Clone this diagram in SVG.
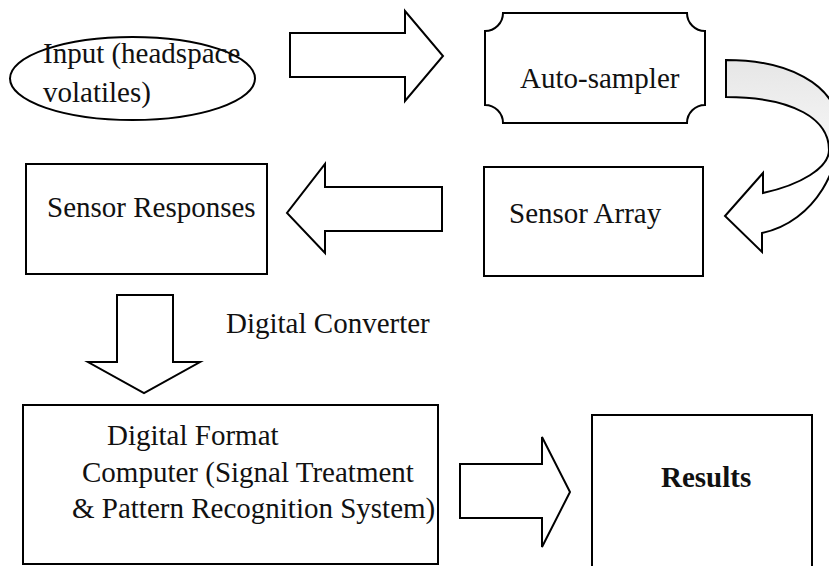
<svg xmlns="http://www.w3.org/2000/svg" width="829" height="566" viewBox="0 0 829 566">
<style>
.s{fill:#fff;stroke:#000;stroke-width:2;stroke-linejoin:miter}
.t{font-family:"Liberation Serif","Times New Roman",serif;font-size:29px;fill:#111}
.b{font-weight:bold}
</style>
<defs>
<linearGradient id="g" x1="0" y1="0" x2="0" y2="1">
<stop offset="0" stop-color="#e6e6e6"/>
<stop offset="0.45" stop-color="#f6f6f6"/>
<stop offset="0.6" stop-color="#fff"/>
</linearGradient>
</defs>
<rect width="829" height="566" fill="#fff"/>
<g id="input">
<ellipse class="s" cx="132.5" cy="78.5" rx="122.5" ry="41.5"/>
<text class="t" x="43" y="63">Input (headspace</text>
<text class="t" x="43" y="102">volatiles)</text>
</g>
<g id="autosampler">
<path class="s" d="M503,13 L687,13 A18,18 0 0 0 705,31 L705,105 A18,18 0 0 0 687,123 L503,123 A18,18 0 0 0 485,105 L485,31 A18,18 0 0 0 503,13 Z"/>
<text class="t" x="520" y="88">Auto-sampler</text>
</g>
<g id="sensor-array">
<rect class="s" x="484" y="167" width="219" height="109"/>
<text class="t" x="509" y="223">Sensor Array</text>
</g>
<g id="sensor-responses">
<rect class="s" x="26" y="164" width="241" height="110"/>
<text class="t" x="47" y="217">Sensor Responses</text>
</g>
<g id="computer">
<rect class="s" x="23" y="405" width="415" height="159"/>
<text class="t" x="107" y="445">Digital Format</text>
<text class="t" x="82" y="482">Computer (Signal Treatment</text>
<text class="t" x="72" y="518">&amp; Pattern Recognition System)</text>
</g>
<g id="results">
<rect class="s" x="592" y="415" width="220" height="160"/>
<text class="t b" x="661" y="487">Results</text>
</g>
<g id="connectors">
<path class="s" d="M290,33 L405,33 L405,11 L443,56 L405,101 L405,77 L290,77 Z"/>
<path d="M726,60 C790,60 832,85 838,120 C845,165 815,222 762,233 L762,252 L725,216 L763,173 L763,193 C800,185 829,168 829,150 C829,120 795,97 726,97 Z" fill="url(#g)" stroke="#000" stroke-width="2"/>
<path class="s" d="M442,187 L325,187 L325,164 L287,213 L325,253 L325,231 L442,231 Z"/>
<path class="s" d="M117,295 L173,295 L173,362 L200,362 L144,393 L88,362 L117,362 Z"/>
<text class="t" x="226" y="333">Digital Converter</text>
<path class="s" d="M460,464 L542,464 L542,437 L570,492 L542,547 L542,518 L460,518 Z"/>
</g>
</svg>
